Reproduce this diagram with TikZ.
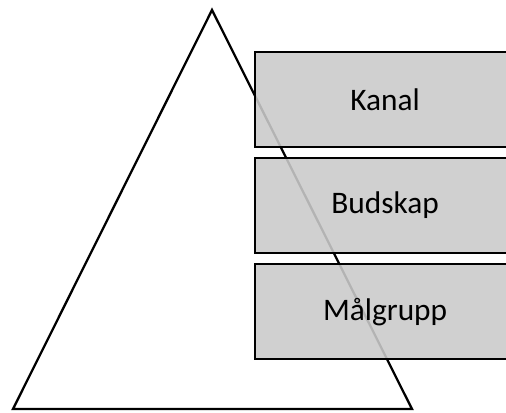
\documentclass[tikz,border=0pt]{standalone}
\usepackage{fontspec}
\setmainfont{Carlito}
\begin{document}
\begin{tikzpicture}[x=0.75pt,y=-0.75pt,
  box/.style={draw=black,line width=1.7pt,fill={rgb,255:red,202;green,202;blue,202},fill opacity=0.89,text opacity=1,
    minimum width=260*0.75pt,minimum height=95*0.75pt,inner sep=0pt,anchor=north west,
    font=\fontsize{23.5}{28}\selectfont}]
\useasboundingbox (0,0) rectangle (506,412);
\clip (0,0) rectangle (506,412);
\coordinate (apex) at (212,10);
\coordinate (bl) at (13,409);
\coordinate (br) at (412,409);
\draw[line width=1.7pt,line join=miter] (apex) -- (bl) -- (br) -- cycle;
\node[box] (kanal) at (254,51) {Kanal};
\node[box] (budskap) at (254,157) {Budskap};
\node[box] (malgrupp) at (254,263) {Målgrupp};
\end{tikzpicture}
\end{document}
